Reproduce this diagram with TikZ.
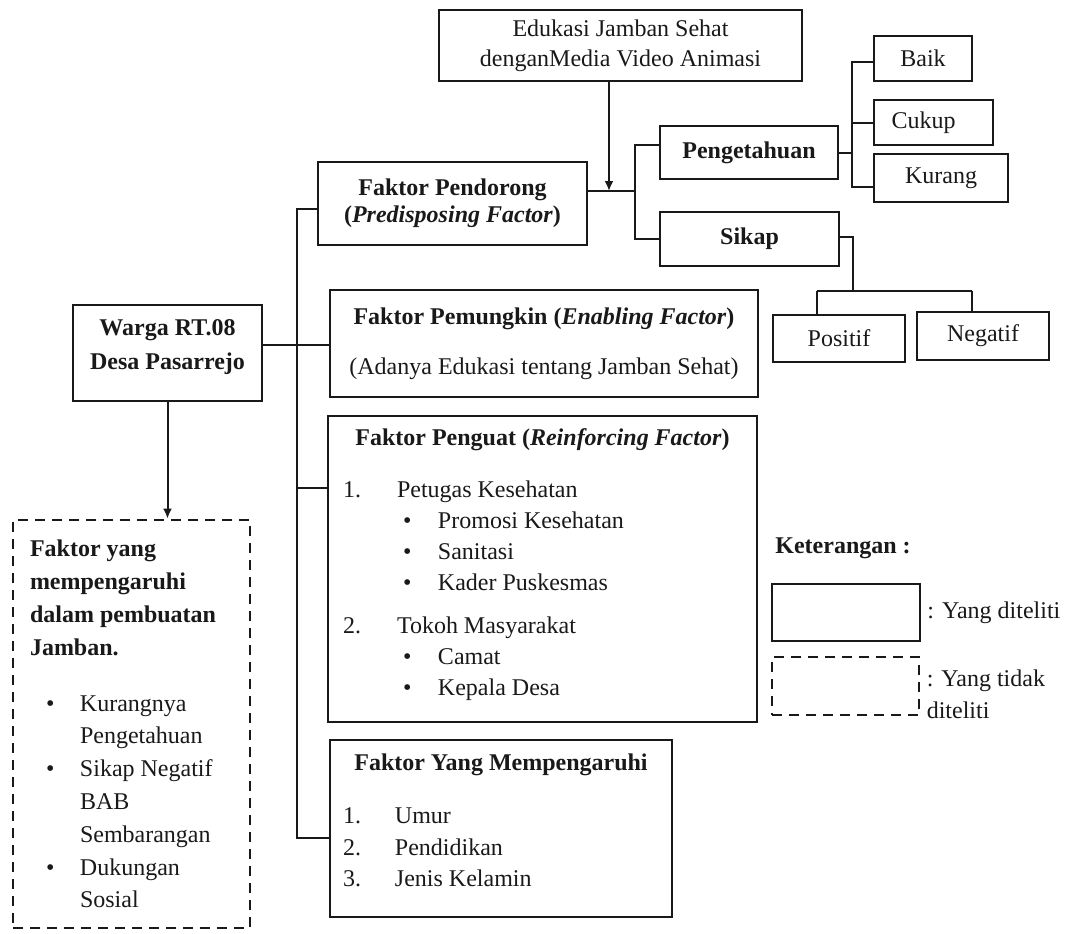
\documentclass[tikz,border=0pt]{standalone}
\usepackage{fontspec}
\setmainfont{Liberation Serif}
\usepackage{tikz}
\usetikzlibrary{arrows.meta, positioning, calc}
\definecolor{mydark}{RGB}{25,25,25}
\tikzset{
  box/.style={rectangle, draw=mydark, line width=1pt, align=center,
    inner sep=0pt, text=mydark, font=\fontsize{12}{15}\selectfont},
  listbox/.style={rectangle, draw=mydark, line width=1pt, align=flush left,
    inner ysep=0pt, text=mydark, font=\fontsize{12}{15.5}\selectfont},
  dashbox/.style={rectangle, draw=mydark, line width=1.4pt,
    dash pattern=on 5pt off 3.5pt, align=flush left, inner ysep=0pt,
    text=mydark, font=\fontsize{12}{16.4}\selectfont},
  arrow/.style={-{Latex[length=5pt,width=4.5pt]}, line width=1pt, color=mydark},
  line/.style={draw, line width=1pt, color=mydark}
}

\begin{document}
\begin{tikzpicture}[x=0.5pt, y=-0.5pt]
  \useasboundingbox (0,0) rectangle (1074,933);

  % Intervention (top)
  \node[box, minimum width=181.5pt, minimum height=35.5pt] (edu) at (620.5,45.5) {
    Edukasi Jamban Sehat\\denganMedia Video Animasi
  };

  % Predisposing branch
  \node[box, minimum width=134.5pt, minimum height=41.5pt, font=\fontsize{12}{13.5}\selectfont\bfseries] (pendorong) at (452.5,203.5) {
    Faktor Pendorong\\(\textit{Predisposing Factor})
  };
  \node[box, minimum width=89pt, minimum height=26.5pt, font=\fontsize{12}{15}\selectfont\bfseries] (peng) at (749,152.5) {Pengetahuan};
  \node[box, minimum width=89.5pt, minimum height=27pt, font=\fontsize{12}{15}\selectfont\bfseries] (sikap) at (749.5,239) {Sikap};

  \node[box, minimum width=49pt, minimum height=22.5pt] (baik) at (923,58.5) {Baik};
  \node[box, minimum width=59.5pt, minimum height=22.5pt] (cukup) at (933.5,122.5) {Cukup\hspace*{10pt}};
  \node[box, minimum width=67pt, minimum height=24pt] (kurang) at (941,178) {Kurang};
  \node[box, minimum width=66pt, minimum height=23.5pt] (positif) at (839,338.5) {Positif};
  \node[box, minimum width=66pt, minimum height=24pt] (negatif) at (983,336) {Negatif};

  % Population
  \node[box, minimum width=94.5pt, minimum height=48pt, font=\fontsize{12}{17}\selectfont\bfseries] (warga) at (167.5,353) {
    Warga RT.08\\Desa Pasarrejo\rule[-8pt]{0pt}{0pt}
  };

  % Enabling factor
  \node[box, minimum width=214pt, minimum height=53.5pt] (pemungkin) at (544,343.5) {
    \textbf{Faktor Pemungkin (\textit{Enabling Factor})}\\[10pt]
    (Adanya Edukasi tentang Jamban Sehat)
  };

  % Reinforcing factor
  \node[listbox, inner xsep=7.5pt, text width=199.5pt, minimum height=153pt] (penguat) at (542.5,569) {
    \makebox[199.5pt]{\textbf{Faktor Penguat (\textit{Reinforcing Factor})}}\\[10.5pt]
    \makebox[27pt][l]{1.}Petugas Kesehatan\\
    \hspace*{30pt}\makebox[17.5pt][l]{\textbullet}Promosi Kesehatan\\
    \hspace*{30pt}\makebox[17.5pt][l]{\textbullet}Sanitasi\\
    \hspace*{30pt}\makebox[17.5pt][l]{\textbullet}Kader Puskesmas\\[6pt]
    \makebox[27pt][l]{2.}Tokoh Masyarakat\\
    \hspace*{30pt}\makebox[17.5pt][l]{\textbullet}Camat\\
    \hspace*{30pt}\makebox[17.5pt][l]{\textbullet}Kepala Desa\rule[-7pt]{0pt}{0pt}
  };

  % Other factors
  \node[listbox, inner xsep=6.5pt, text width=158pt, minimum height=88.5pt, font=\fontsize{12}{15.75}\selectfont] (mempeng) at (501,828.5) {
    \makebox[158pt]{\textbf{Faktor Yang Mempengaruhi}}\\[10.75pt]
    \makebox[26pt][l]{1.}Umur\\
    \makebox[26pt][l]{2.}Pendidikan\\
    \makebox[26pt][l]{3.}Jenis Kelamin\rule[-8pt]{0pt}{0pt}
  };

  % Not examined
  \node[dashbox, inner xsep=8.5pt, text width=101.5pt, minimum height=204pt] (faktor) at (131.5,724) {
    \textbf{Faktor yang}\\
    \textbf{mempengaruhi}\\
    \textbf{dalam pembuatan}\\
    \textbf{Jamban.}\\[11.6pt]
    \hspace*{8pt}\makebox[17pt][l]{\textbullet}Kurangnya\\
    \hspace*{25pt}Pengetahuan\\
    \hspace*{8pt}\makebox[17pt][l]{\textbullet}Sikap Negatif\\
    \hspace*{25pt}BAB\\
    \hspace*{25pt}Sembarangan\\
    \hspace*{8pt}\makebox[17pt][l]{\textbullet}Dukungan\\
    \hspace*{25pt}Sosial
  };

  % Legend
  \node[anchor=west, inner sep=0pt, text=mydark, font=\fontsize{12}{15}\selectfont\bfseries] (ket) at (775,548) {Keterangan :};
  \node[box, minimum width=74pt, minimum height=28.5pt] (legsolid) at (846,612.5) {};
  \node[dashbox, minimum width=73.5pt, minimum height=29pt] (legdash) at (845.5,686) {};
  \node[right=3pt of legsolid, inner sep=0pt, text=mydark, font=\fontsize{12}{15}\selectfont] (lblsolid) {: Yang diteliti};
  \node[right=3pt of legdash, yshift=-4pt, inner sep=0pt, align=left, text=mydark, font=\fontsize{12}{16}\selectfont] (lbldash) {: Yang tidak\\diteliti};

  % Connections
  \coordinate (jp) at (609,191);
  \coordinate (pbus) at (635,191);
  \coordinate (kbus) at (852,152.5);
  \coordinate (sbus) at (853,291);
  \coordinate (spos) at (817,291);
  \coordinate (sneg) at (972,291);
  \coordinate (trunk) at (297,345);
  \coordinate (pgbr) at (297,488);

  \draw[arrow] (edu.south -| jp) -- (jp);
  \draw[line] (pendorong.east |- pbus) -- (pbus);
  \draw[line] ([yshift=4pt]peng.west) -| (pbus) |- (sikap.west);

  \draw[line] (peng.east) -- (kbus);
  \draw[line] ([yshift=-1.5pt]baik.west) -| (kbus) |- ([yshift=-4.5pt]kurang.west);
  \draw[line] (cukup.west) -- (cukup.west -| kbus);

  \draw[line] ([yshift=1pt]sikap.east) -| (sbus);
  \draw[line] (spos) -- (sneg);
  \draw[line] (spos) -- (spos |- positif.north);
  \draw[line] (sneg) -- (sneg |- negatif.north);

  \draw[line] ([yshift=-2.5pt]pendorong.west) -| (trunk) |- ([yshift=-4.5pt]mempeng.west);
  \draw[line] (warga.east |- trunk) -- (pemungkin.west |- trunk);
  \draw[line] (pgbr) -- (pgbr -| penguat.west);

  \draw[arrow] (warga.south) -- (warga.south |- faktor.north);
\end{tikzpicture}
\end{document}
